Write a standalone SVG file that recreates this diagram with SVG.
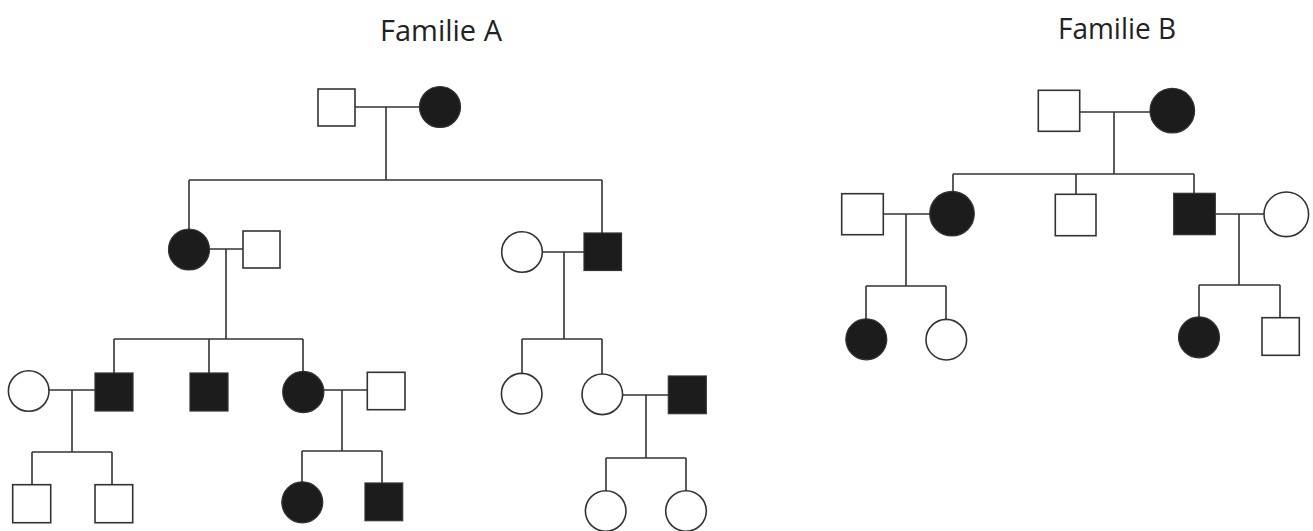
<svg xmlns="http://www.w3.org/2000/svg" width="1313" height="531" viewBox="0 0 1313 531">
<style>
.o{fill:#fff;stroke:#333;stroke-width:1.6}
.f{fill:#1c1c1c;stroke:#333;stroke-width:1.2}
.c line{stroke:#333;stroke-width:1.6}
text{font-family:"Open Sans","Liberation Sans",sans-serif;font-size:30px;fill:#222}
</style>
<rect width="1313" height="531" fill="#fff"/>
<text x="380" y="41" textLength="122" lengthAdjust="spacingAndGlyphs">Familie A</text>
<text x="1058" y="38.5" textLength="118" lengthAdjust="spacingAndGlyphs">Familie B</text>
<g class="c" id="connectors">
<!-- Family A gen1 -->
<line x1="355" y1="107" x2="420" y2="107"/>
<line x1="386" y1="107" x2="386" y2="180"/>
<line x1="189" y1="180" x2="602" y2="180"/>
<line x1="189" y1="180" x2="189" y2="229"/>
<line x1="602" y1="180" x2="602" y2="233"/>
<!-- left couple -->
<line x1="210" y1="249" x2="243" y2="249"/>
<line x1="226" y1="249" x2="226" y2="339"/>
<line x1="114" y1="339" x2="303" y2="339"/>
<line x1="114" y1="339" x2="114" y2="373"/>
<line x1="209" y1="339" x2="209" y2="373"/>
<line x1="303" y1="339" x2="303" y2="371"/>
<!-- right couple -->
<line x1="542" y1="252" x2="584" y2="252"/>
<line x1="564" y1="252" x2="564" y2="339"/>
<line x1="522" y1="339" x2="602" y2="339"/>
<line x1="522" y1="339" x2="522" y2="373"/>
<line x1="602" y1="339" x2="602" y2="374"/>
<!-- gen3 couples -->
<line x1="49" y1="390" x2="95" y2="390"/>
<line x1="72" y1="390" x2="72" y2="452"/>
<line x1="32" y1="452" x2="112" y2="452"/>
<line x1="32" y1="452" x2="32" y2="485"/>
<line x1="112" y1="452" x2="112" y2="485"/>
<line x1="324" y1="390" x2="367" y2="390"/>
<line x1="342" y1="390" x2="342" y2="451"/>
<line x1="302" y1="451" x2="382" y2="451"/>
<line x1="302" y1="451" x2="302" y2="482"/>
<line x1="382" y1="451" x2="382" y2="483"/>
<line x1="623" y1="395" x2="668" y2="395"/>
<line x1="646" y1="395" x2="646" y2="458"/>
<line x1="606" y1="458" x2="686" y2="458"/>
<line x1="606" y1="458" x2="606" y2="491"/>
<line x1="686" y1="458" x2="686" y2="491"/>
<!-- Family B -->
<line x1="1080" y1="112" x2="1150" y2="112"/>
<line x1="1114" y1="112" x2="1114" y2="174"/>
<line x1="953" y1="174" x2="1194" y2="174"/>
<line x1="953" y1="174" x2="953" y2="192"/>
<line x1="1076" y1="174" x2="1076" y2="194"/>
<line x1="1194" y1="174" x2="1194" y2="193"/>
<line x1="883" y1="214" x2="930" y2="214"/>
<line x1="906" y1="214" x2="906" y2="286"/>
<line x1="866" y1="286" x2="946" y2="286"/>
<line x1="866" y1="286" x2="866" y2="319"/>
<line x1="946" y1="286" x2="946" y2="319"/>
<line x1="1215" y1="214" x2="1264" y2="214"/>
<line x1="1239" y1="214" x2="1239" y2="285"/>
<line x1="1199" y1="285" x2="1280" y2="285"/>
<line x1="1199" y1="285" x2="1199" y2="317"/>
<line x1="1280" y1="285" x2="1280" y2="318"/>
</g>
<!-- Family A -->
<g id="a1"><rect class="o" x="318" y="89" width="37" height="37"/></g>
<g id="a2"><circle class="f" cx="440" cy="107" r="20.5"/></g>
<g id="a3"><circle class="f" cx="189" cy="249.5" r="20.5"/></g>
<g id="a4"><rect class="o" x="243" y="231" width="37" height="37"/></g>
<g id="a5"><circle class="o" cx="522" cy="252" r="20.3"/></g>
<g id="a6"><rect class="f" x="584" y="233" width="37.5" height="37.5"/></g>
<g id="a7"><circle class="o" cx="28.7" cy="391" r="20.3"/></g>
<g id="a8"><rect class="f" x="95" y="373" width="38" height="38"/></g>
<g id="a9"><rect class="f" x="190" y="373" width="38" height="38"/></g>
<g id="a10"><circle class="f" cx="303.3" cy="392" r="20.6"/></g>
<g id="a11"><rect class="o" x="367.3" y="372.3" width="37.7" height="37.4"/></g>
<g id="a12"><circle class="o" cx="521.7" cy="393.7" r="20.3"/></g>
<g id="a13"><circle class="o" cx="602.3" cy="394.3" r="20.3"/></g>
<g id="a14"><rect class="f" x="668.3" y="376" width="38" height="37.7"/></g>
<g id="a15"><rect class="o" x="12.7" y="484.7" width="38" height="38"/></g>
<g id="a16"><rect class="o" x="95" y="484.7" width="37.7" height="38"/></g>
<g id="a17"><circle class="f" cx="302.3" cy="502.3" r="20.5"/></g>
<g id="a18"><rect class="f" x="365" y="483" width="37.7" height="37.7"/></g>
<g id="a19"><circle class="o" cx="605.7" cy="511" r="20.3"/></g>
<g id="a20"><circle class="o" cx="686" cy="511" r="20.3"/></g>
<!-- Family B -->
<g id="b1"><rect class="o" x="1038.3" y="90.3" width="41.4" height="41"/></g>
<g id="b2"><circle class="f" cx="1172.3" cy="110.7" r="22.3"/></g>
<g id="b3"><rect class="o" x="841.7" y="193.7" width="41.6" height="41"/></g>
<g id="b4"><circle class="f" cx="952" cy="213.7" r="22.3"/></g>
<g id="b5"><rect class="o" x="1055.3" y="194.3" width="40.7" height="41.4"/></g>
<g id="b6"><rect class="f" x="1173.7" y="193.3" width="41.6" height="41.4"/></g>
<g id="b7"><circle class="o" cx="1286.3" cy="214.3" r="22.3"/></g>
<g id="b8"><circle class="f" cx="866.3" cy="339.3" r="20.5"/></g>
<g id="b9"><circle class="o" cx="946.3" cy="339.7" r="20.3"/></g>
<g id="b10"><circle class="f" cx="1199" cy="337.3" r="20.5"/></g>
<g id="b11"><rect class="o" x="1262" y="317.7" width="37.3" height="37.6"/></g>
</svg>
